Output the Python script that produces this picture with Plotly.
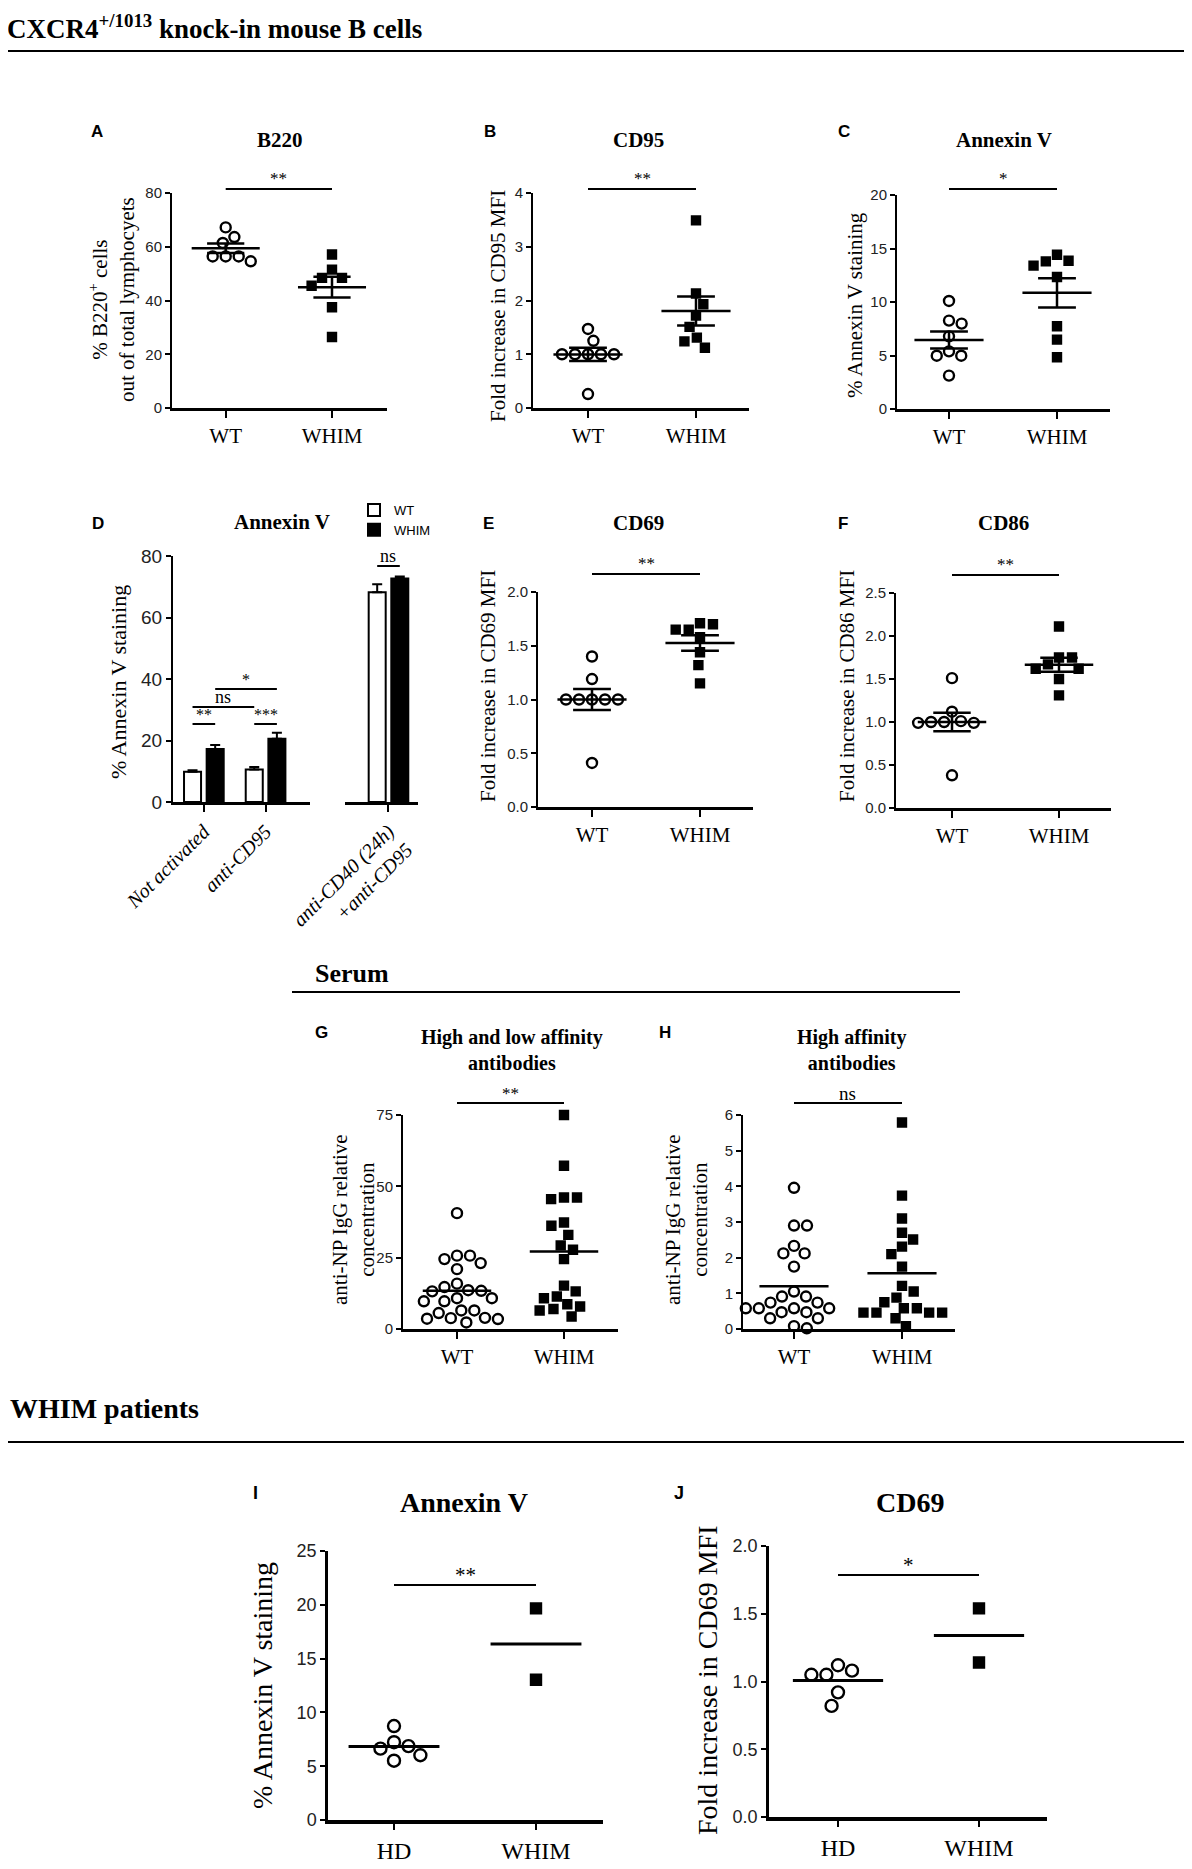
import numpy as np
import plotly.graph_objects as go

# the page body keeps its default 8px margin, so the figure is drawn 8px in
OFF = 8
W, H = 1192 - OFF, 1869 - OFF
SERIF = "Liberation Serif, Times New Roman, serif"
SANS = "Liberation Sans, Arial, sans-serif"

# values
groups = ["WT", "WHIM"]
patients = ["HD", "WHIM"]

b220_wt = [67.2, 63.6, 61.4, 56.4, 56.4, 56.4, 54.6]
b220_whim = [57.1, 51.5, 48.4, 48.4, 45.5, 37.5, 26.4]
cd95_wt = [1.47, 1.25, 1.0, 1.0, 1.0, 1.0, 1.0, 0.26]
cd95_whim = [3.49, 2.13, 1.93, 1.72, 1.51, 1.31, 1.24, 1.12]
annexin_wt = [10.1, 8.26, 7.98, 6.79, 5.39, 4.98, 4.98, 3.12]
annexin_whim = [14.42, 13.86, 13.8, 13.4, 12.34, 7.73, 6.48, 4.83]

treatments = ["Not activated", "anti-CD95"]
treatment_cd40 = ["anti-CD40 (24h)<br>+anti-CD95"]
bar_wt = [9.8, 10.6, 68.2]
bar_wt_err = [0.5, 0.8, 2.6]
bar_whim = [17.2, 20.6, 72.7]
bar_whim_err = [1.3, 1.9, 0.6]

cd69_wt = [1.40, 1.19, 1.0, 1.0, 1.0, 1.0, 1.0, 0.41]
cd69_whim = [1.71, 1.70, 1.65, 1.65, 1.58, 1.44, 1.32, 1.15]
cd86_wt = [1.51, 1.12, 1.01, 1.0, 1.0, 0.99, 0.99, 0.38]
cd86_whim = [2.11, 1.75, 1.75, 1.67, 1.62, 1.62, 1.50, 1.31]

np_all_wt = [40.6, 25.7, 25.7, 24.5, 23.1, 21.0, 15.9, 14.7, 13.6, 13.4, 13.2,
             10.8, 10.8, 9.7, 9.7, 6.5, 6.5, 5.6, 3.9, 3.8, 3.6, 3.5, 2.3]
np_all_whim = [75.0, 57.2, 46.1, 46.1, 45.5, 37.3, 36.2, 33.0, 29.3, 27.8, 24.5,
               15.2, 13.2, 11.4, 10.8, 8.7, 7.9, 7.0, 6.5, 4.4]
np_high_wt = [3.96, 2.90, 2.90, 2.33, 2.12, 2.12, 1.75, 1.05, 0.91, 0.91, 0.74,
              0.74, 0.58, 0.58, 0.58, 0.58, 0.47, 0.47, 0.30, 0.30, 0.08, 0.02]
np_high_whim = [5.79, 3.74, 3.10, 2.70, 2.51, 2.31, 2.10, 1.75, 1.21, 1.05,
                0.88, 0.75, 0.58, 0.58, 0.46, 0.46, 0.46, 0.46, 0.30, 0.08]

pt_annexin_hd = [8.73, 7.23, 6.87, 6.63, 6.02, 5.51]
pt_annexin_whim = [19.67, 13.04]
pt_cd69_hd = [1.12, 1.08, 1.05, 1.05, 0.92, 0.82]
pt_cd69_whim = [1.54, 1.14]


# screen pixel -> paper fraction
def xp(v):
    return (v - OFF) / W


def yp(v):
    return 1 - (v - OFF) / H


fig = go.Figure()
layout = {}
shapes = []
notes = []


def text(x, y, s, size, family=SERIF, angle=0, xanchor="center"):
    notes.append(dict(x=xp(x), y=yp(y), xref="paper", yref="paper", text=s,
                      showarrow=False, textangle=angle, xanchor=xanchor,
                      yanchor="middle",
                      font=dict(family=family, size=size, color="black")))


def hline(x0, x1, y, xref="paper", width=2):
    if xref == "paper":
        x0, x1 = xp(x0), xp(x1)
    shapes.append(dict(type="line", xref=xref, yref="paper", x0=x0, x1=x1,
                       y0=yp(y), y1=yp(y), line=dict(color="black", width=width)))


def sig(xref, x0, x1, y, s, size=17):
    hline(x0, x1, y, xref=xref)
    notes.append(dict(x=(x0 + x1) / 2, y=yp(y - 10), xref=xref, yref="paper",
                      text=s, showarrow=False, yanchor="middle",
                      font=dict(family=SERIF, size=size, color="black")))


def swarm(vals, y_scale, diam):
    # beeswarm: each point takes the free spot nearest the centre line (pixels)
    vals = np.asarray(vals, dtype=float)
    off = np.zeros(len(vals))
    placed = []
    side = 1
    for k in np.argsort(-vals, kind="stable"):
        y = vals[k] * y_scale
        blocked = []
        for xo, yo in placed:
            dy = abs(y - yo)
            if dy < diam:
                half = np.sqrt(diam ** 2 - dy ** 2)
                blocked.append((xo - half, xo + half))
        cands = [0.0] + [b for iv in blocked for b in iv]
        free = [c for c in cands
                if all(not (lo + 1e-6 < c < hi - 1e-6) for lo, hi in blocked)]
        best = min(abs(c) for c in free)
        pick = sorted(set(round(c, 6) for c in free if abs(abs(c) - best) < 1e-6))
        if len(pick) > 1:
            c = pick[-1] if side > 0 else pick[0]
            side = -side
        else:
            c = pick[0]
        off[k] = c
        placed.append((c, y))
    return off


def dot_panel(i, box, left, right, cats, ymax, dtick, fmt, yfont, xfont,
              msize, with_sem, sig_y, sig_text, sig_size=17, big=False):
    x0, xa, xb, x1, ytop, ybot = box
    sfx = "" if i == 1 else str(i)
    xn, yn = "x" + sfx, "y" + sfx
    unit = xb - xa
    y_scale = (ybot - ytop) / ymax
    layout["xaxis" + sfx] = dict(
        domain=[xp(x0), xp(x1)], anchor=yn, automargin=False,
        range=[-(xa - x0) / unit, 1 + (x1 - xb) / unit],
        tickvals=[0, 1], ticktext=cats, showline=True, linecolor="black",
        linewidth=4 if big else 3, ticks="outside", ticklen=6 if big else 7,
        tickwidth=2, tickcolor="black", showgrid=False, zeroline=False,
        tickfont=dict(family=SERIF, size=xfont, color="black"))
    layout["yaxis" + sfx] = dict(
        domain=[yp(ybot), yp(ytop)], anchor=xn, range=[0, ymax], automargin=False,
        tickvals=list(np.arange(0, ymax + dtick / 2, dtick)), tickformat=fmt,
        showline=True, linecolor="black", linewidth=2.5 if big else 2,
        ticks="outside", ticklen=5, tickwidth=2, tickcolor="black",
        showgrid=False, zeroline=False,
        tickfont=dict(family=SANS, size=yfont, color="#222"))

    diam = msize + 3
    for pos, vals, sym, sz in ((0, left, "circle-open", msize),
                               (1, right, "square", msize - 2)):
        off = swarm(vals, y_scale, diam) / unit
        fig.add_trace(go.Scatter(
            x=pos + off, y=vals, xaxis=xn, yaxis=yn, mode="markers",
            cliponaxis=False, showlegend=False,
            marker=dict(symbol=sym, size=sz, color="black",
                        line=dict(width=2.4, color="black"))))

    xs, ys = [], []
    mw, cw = (0.32, 0.175)
    for pos, vals in ((0, left), (1, right)):
        m = float(np.mean(vals))
        xs += [pos - mw, pos + mw, None]
        ys += [m, m, None]
        if with_sem:
            s = float(np.std(vals, ddof=1) / np.sqrt(len(vals)))
            xs += [pos, pos, None, pos - cw, pos + cw, None, pos - cw, pos + cw, None]
            ys += [m - s, m + s, None, m + s, m + s, None, m - s, m - s, None]
    fig.add_trace(go.Scatter(x=xs, y=ys, xaxis=xn, yaxis=yn, mode="lines",
                             showlegend=False, hoverinfo="skip",
                             line=dict(color="black", width=3 if big else 2.5)))
    sig(xn, 0, 1, sig_y, sig_text, sig_size)


# ---- section headers ----
text(5, 27, "<b>CXCR4<sup>+/1013</sup> knock-in mouse B cells</b>", 27, xanchor="left")
hline(5, 1190, 51)
text(313, 973, "<b>Serum</b>", 26, xanchor="left")
hline(292, 960, 992)
text(8, 1408, "<b>WHIM patients</b>", 28, xanchor="left")
hline(5, 1190, 1442)

# ---- A, B, C ----
dot_panel(1, (172, 225.7, 332, 387, 193, 408), b220_wt, b220_whim, groups,
          80, 20, "d", 15, 21, 10, True, 189, "**")
text(97, 132, "<b>A</b>", 17, SANS)
text(280, 140, "<b>B220</b>", 21)
text(112, 300, "% B220<sup>+</sup> cells<br>out of total lymphocyets", 21, angle=-90)

dot_panel(2, (533, 588, 696, 749, 193, 408), cd95_wt, cd95_whim, groups,
          4, 1, "d", 15, 21, 10, True, 189, "**")
text(490, 132, "<b>B</b>", 17, SANS)
text(638, 140, "<b>CD95</b>", 21)
text(498, 306, "Fold increase in CD95 MFI", 21, angle=-90)

dot_panel(3, (897, 949, 1057, 1110, 195, 409), annexin_wt, annexin_whim, groups,
          20, 5, "d", 15, 21, 10, True, 189, "*")
text(844, 132, "<b>C</b>", 17, SANS)
text(1004, 140, "<b>Annexin V</b>", 21)
text(855, 305, "% Annexin V staining", 21, angle=-90)

# ---- D: bars with broken x axis ----
bar_err = dict(type="data", symmetric=False, color="black", thickness=2, width=5)
fig.add_trace(go.Bar(x=treatments, y=bar_wt[:2], name="WT", xaxis="x4", yaxis="y4",
                     marker=dict(color="white", line=dict(color="black", width=2)),
                     error_y=dict(bar_err, array=bar_wt_err[:2], arrayminus=[0, 0])))
fig.add_trace(go.Bar(x=treatments, y=bar_whim[:2], name="WHIM", xaxis="x4", yaxis="y4",
                     marker=dict(color="black", line=dict(color="black", width=2)),
                     error_y=dict(bar_err, array=bar_whim_err[:2], arrayminus=[0, 0])))
fig.add_trace(go.Bar(x=treatment_cd40, y=bar_wt[2:], name="WT", xaxis="x5", yaxis="y4",
                     showlegend=False,
                     marker=dict(color="white", line=dict(color="black", width=2)),
                     error_y=dict(bar_err, array=bar_wt_err[2:], arrayminus=[0])))
fig.add_trace(go.Bar(x=treatment_cd40, y=bar_whim[2:], name="WHIM", xaxis="x5", yaxis="y4",
                     showlegend=False,
                     marker=dict(color="black", line=dict(color="black", width=2)),
                     error_y=dict(bar_err, array=bar_whim_err[2:], arrayminus=[0])))

d_x = dict(showline=True, linecolor="black", linewidth=3, ticks="outside", ticklen=7,
           tickwidth=2, tickcolor="black", showgrid=False, zeroline=False, anchor="y4",
           tickangle=-45, automargin=False,
           tickfont=dict(family=SERIF, size=20, color="black", style="italic"))
layout["xaxis4"] = dict(d_x, domain=[xp(173), xp(310)], range=[-0.5, 1.72])
layout["xaxis5"] = dict(d_x, domain=[xp(345), xp(418)], range=[-0.706, 0.479])
layout["yaxis4"] = dict(domain=[yp(802), yp(556)], anchor="x4", range=[0, 80],
                        tickvals=[0, 20, 40, 60, 80], showline=True, linecolor="black",
                        linewidth=2, ticks="outside", ticklen=5, tickwidth=2,
                        tickcolor="black", showgrid=False, zeroline=False,
                        automargin=False,
                        tickfont=dict(family=SANS, size=19, color="#222"))
half = 0.1835
sig("x4", -half, half, 724, "**", 16)
sig("x4", 1 - half, 1 + half, 724, "***", 16)
sig("x4", -half, 1 - half, 707, "ns", 18)
sig("x4", half, 1 + half, 689, "*", 16)
sig("x5", -half, half, 566, "ns", 18)
text(98, 523, "<b>D</b>", 17, SANS)
text(282, 522, "<b>Annexin V</b>", 21)
text(118, 682, "% Annexin V staining", 22, angle=-90)

# ---- E, F ----
dot_panel(6, (538, 592, 700, 753, 592, 807), cd69_wt, cd69_whim, groups,
          2, 0.5, ".1f", 15, 21, 10, True, 574, "**")
text(488, 523, "<b>E</b>", 17, SANS)
text(638, 523, "<b>CD69</b>", 21)
text(488, 686, "Fold increase in CD69 MFI", 21, angle=-90)

dot_panel(7, (896, 952, 1059, 1111, 593, 808), cd86_wt, cd86_whim, groups,
          2.5, 0.5, ".1f", 15, 21, 10, True, 575, "**")
text(843, 523, "<b>F</b>", 17, SANS)
text(1003, 523, "<b>CD86</b>", 21)
text(847, 686, "Fold increase in CD86 MFI", 21, angle=-90)

# ---- G, H (serum) ----
dot_panel(8, (403, 457, 564, 618, 1115, 1329), np_all_wt, np_all_whim, groups,
          75, 25, "d", 15, 21, 10, False, 1103, "**")
text(321, 1032, "<b>G</b>", 17, SANS)
text(512, 1050, "<b>High and low affinity<br>antibodies</b>", 20)
text(353, 1220, "anti-NP IgG relative<br>concentration", 21, angle=-90)

dot_panel(9, (743, 794, 902, 955, 1115, 1329), np_high_wt, np_high_whim, groups,
          6, 1, "d", 15, 21, 10, False, 1103, "ns", 19)
text(665, 1032, "<b>H</b>", 17, SANS)
text(851, 1050, "<b>High affinity<br>antibodies</b>", 20)
text(686, 1220, "anti-NP IgG relative<br>concentration", 21, angle=-90)

# ---- I, J (patients) ----
dot_panel(10, (328, 394, 536, 603, 1551, 1820), pt_annexin_hd, pt_annexin_whim,
          patients, 25, 5, "d", 18, 24, 12, False, 1585, "**", 21, big=True)
text(255, 1493, "<b>I</b>", 18, SANS)
text(464, 1502, "<b>Annexin V</b>", 28)
text(262, 1686, "% Annexin V staining", 28, angle=-90)

dot_panel(11, (769, 838, 979, 1047, 1546, 1817), pt_cd69_hd, pt_cd69_whim,
          patients, 2, 0.5, ".1f", 18, 24, 12, False, 1575, "*", 21, big=True)
text(679, 1493, "<b>J</b>", 18, SANS)
text(910, 1502, "<b>CD69</b>", 28)
text(707, 1680, "Fold increase in CD69 MFI", 28, angle=-90)

fig.update_layout(
    **layout,
    width=W, height=H, autosize=False,
    margin=dict(l=0, r=0, t=0, b=0, pad=0, autoexpand=False),
    paper_bgcolor="white", plot_bgcolor="white",
    barmode="group", bargap=0.266, bargroupgap=0.248,
    showlegend=True,
    legend=dict(x=xp(354), y=yp(495), xanchor="left", yanchor="top",
                bgcolor="rgba(0,0,0,0)", itemwidth=30, tracegroupgap=0,
                font=dict(family=SANS, size=13, color="black")),
    shapes=shapes, annotations=notes,
)

fig.write_html("out.html")
